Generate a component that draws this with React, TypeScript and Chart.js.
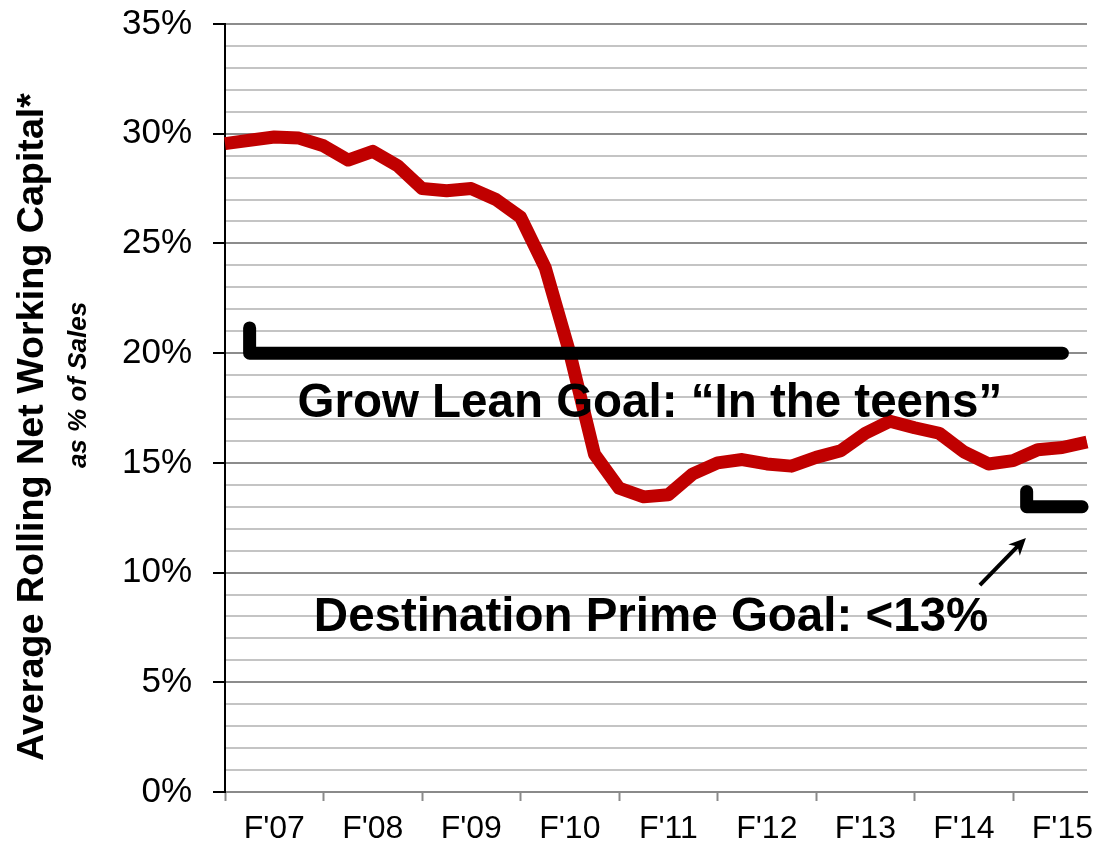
import React, { useEffect, useRef } from "react";
import { Chart, registerables } from "chart.js";

Chart.register(...registerables);

// ---- Data ----
const yearLabels = ["F'07", "F'08", "F'09", "F'10", "F'11", "F'12", "F'13", "F'14", "F'15"];
// Average rolling net working capital as % of sales, quarterly points
const nwcPct = [
  29.55, 29.7, 29.85, 29.8, 29.45, 28.8, 29.2, 28.55,
  27.5, 27.4, 27.5, 27.0, 26.2, 23.9, 20.0, 15.4,
  13.85, 13.45, 13.55, 14.5, 15.0, 15.15, 14.95, 14.85,
  15.25, 15.55, 16.35, 16.9, 16.6, 16.35, 15.5, 14.95,
  15.1, 15.6, 15.7, 15.95, 16.2,
];
const yTickValues = [0, 5, 10, 15, 20, 25, 30, 35];
const growLeanGoalPct = 20;
const destinationPrimeGoalPct = 13;
// goal bracket shapes: [quarter index, pct]
const growLeanBracket = [
  [1, 21.15],
  [1, growLeanGoalPct],
  [34, growLeanGoalPct],
];
const primeBracket = [
  [32.55, 13.7],
  [32.55, destinationPrimeGoalPct],
  [34.8, destinationPrimeGoalPct],
];
const growLeanText = "Grow Lean Goal: \u201CIn the teens\u201D";
const primeText = "Destination Prime Goal: <13%";
const yTitle1 = "Average Rolling Net Working Capital*";
const yTitle2 = "as % of Sales";
const quartersShown = 35;

const FONT = "'Liberation Sans', Arial, Helvetica, sans-serif";

const annotationPlugin = {
  id: "annotations",
  afterDatasetsDraw(chart: any) {
    const { ctx, scales } = chart;
    const xs = scales.x;
    const ys = scales.y;
    ctx.save();
    ctx.fillStyle = "#000";
    ctx.textAlign = "center";
    ctx.textBaseline = "alphabetic";
    ctx.font = `bold 47.5px ${FONT}`;
    ctx.fillText(growLeanText, xs.getPixelForValue(17.25), ys.getPixelForValue(17.1));
    ctx.fillText(primeText, xs.getPixelForValue(17.3), ys.getPixelForValue(7.35));

    // arrow
    const x0 = xs.getPixelForValue(30.65);
    const y0 = ys.getPixelForValue(9.43);
    const x1 = xs.getPixelForValue(32.52);
    const y1 = ys.getPixelForValue(11.58);
    const ang = Math.atan2(y1 - y0, x1 - x0);
    const headLen = 17;
    const headW = 8;
    ctx.strokeStyle = "#000";
    ctx.lineWidth = 4;
    ctx.beginPath();
    ctx.moveTo(x0, y0);
    ctx.lineTo(x1 - Math.cos(ang) * headLen * 0.6, y1 - Math.sin(ang) * headLen * 0.6);
    ctx.stroke();
    ctx.beginPath();
    ctx.moveTo(x1, y1);
    ctx.lineTo(
      x1 - Math.cos(ang) * headLen + Math.sin(ang) * headW,
      y1 - Math.sin(ang) * headLen - Math.cos(ang) * headW
    );
    ctx.lineTo(x1 - Math.cos(ang) * headLen * 0.7, y1 - Math.sin(ang) * headLen * 0.7);
    ctx.lineTo(
      x1 - Math.cos(ang) * headLen - Math.sin(ang) * headW,
      y1 - Math.sin(ang) * headLen + Math.cos(ang) * headW
    );
    ctx.closePath();
    ctx.fill();
    ctx.restore();
  },
  afterDraw(chart: any) {
    const { ctx } = chart;
    ctx.save();
    ctx.fillStyle = "#000";
    ctx.textAlign = "center";
    ctx.textBaseline = "alphabetic";
    ctx.translate(43, 427);
    ctx.rotate(-Math.PI / 2);
    ctx.font = `bold 37.7px ${FONT}`;
    ctx.fillText(yTitle1, 0, 0);
    ctx.restore();
    ctx.save();
    ctx.fillStyle = "#000";
    ctx.textAlign = "center";
    ctx.textBaseline = "alphabetic";
    ctx.translate(86, 385);
    ctx.rotate(-Math.PI / 2);
    ctx.font = `italic bold 26px ${FONT}`;
    ctx.fillText(yTitle2, 0, 0);
    ctx.restore();
  },
};

export default function App() {
  const ref = useRef<HTMLCanvasElement | null>(null);
  useEffect(() => {
    if (!ref.current) return;
    const chart = new Chart(ref.current, {
      type: "line",
      data: {
        datasets: [
          {
            data: growLeanBracket.map(([x, y]) => ({ x, y })),
            borderColor: "#000",
            borderWidth: 13,
            borderCapStyle: "round",
            borderJoinStyle: "round",
            pointRadius: 0,
            clip: false,
            order: 0,
          },
          {
            data: primeBracket.map(([x, y]) => ({ x, y })),
            borderColor: "#000",
            borderWidth: 13,
            borderCapStyle: "round",
            borderJoinStyle: "round",
            pointRadius: 0,
            clip: false,
            order: 0,
          },
          {
            data: nwcPct.map((v, i) => ({ x: i, y: v })),
            borderColor: "#C00000",
            borderWidth: 13,
            borderJoinStyle: "round",
            pointRadius: 0,
            tension: 0,
            clip: false,
            order: 1,
          },
        ],
      } as any,
      options: {
        animation: false,
        responsive: false,
        events: [],
        layout: { padding: { left: 95, top: 24, right: 9, bottom: 0 } },
        plugins: { legend: { display: false }, tooltip: { enabled: false } },
        scales: {
          x: {
            type: "linear",
            min: 0,
            max: quartersShown,
            afterBuildTicks: (s: any) => {
              const t: any[] = [];
              for (let v = 0; v <= 34; v += 2) t.push({ value: v });
              s.ticks = t;
            },
            afterFit: (s: any) => {
              s.height = 52;
              s.paddingLeft = 0;
              s.paddingRight = 0;
            },
            ticks: {
              autoSkip: false,
              maxRotation: 0,
              minRotation: 0,
              padding: 9,
              color: "#000",
              font: { family: FONT, size: 32 },
              callback: (v: any) => {
                const n = Number(v);
                if ((n - 2) % 4 === 0) return yearLabels[(n - 2) / 4] ?? "";
                return "";
              },
            },
            grid: {
              drawOnChartArea: false,
              drawTicks: true,
              tickLength: 9,
              tickWidth: 2,
              tickColor: (c: any) =>
                c.tick && c.tick.value % 4 === 0 ? "#8a8a8a" : "rgba(0,0,0,0)",
            },
            border: { display: true, color: "#8a8a8a", width: 2 },
          },
          y: {
            type: "linear",
            min: 0,
            max: 35,
            afterFit: (s: any) => {
              s.width = 130;
              s.paddingTop = 0;
              s.paddingBottom = 0;
            },
            ticks: {
              stepSize: 1,
              autoSkip: false,
              padding: 21,
              color: "#000",
              font: { family: FONT, size: 35 },
              callback: (v: any) => (yTickValues.includes(Number(v)) ? `${v}%` : ""),
            },
            grid: {
              drawTicks: true,
              tickLength: 12,
              tickWidth: 2,
              lineWidth: 2,
              color: (c: any) =>
                c.tick && c.tick.value % 5 === 0 ? "#8c8c8c" : "#c4c4c4",
              tickColor: (c: any) =>
                c.tick && c.tick.value % 5 === 0 ? "#000" : "rgba(0,0,0,0)",
            },
            border: { display: true, color: "#000", width: 2 },
          },
        },
      } as any,
      plugins: [annotationPlugin],
    });
    return () => chart.destroy();
  }, []);
  return (
    <div style={{ position: "fixed", left: 0, top: 0, width: 1096, height: 844, background: "#fff" }}>
      <canvas ref={ref} width={1096} height={844} style={{ display: "block" }} />
    </div>
  );
}
